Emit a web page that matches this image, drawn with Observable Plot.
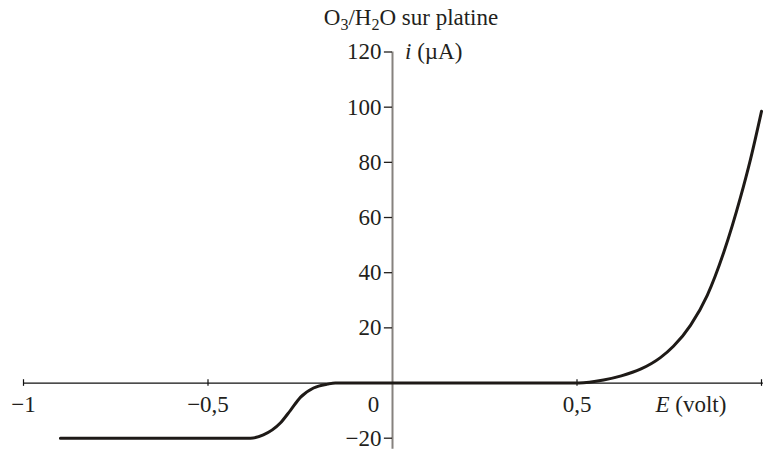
<!DOCTYPE html>
<html><head><meta charset="utf-8">
<script src="https://cdn.jsdelivr.net/npm/d3@7"></script>
<script src="https://cdn.jsdelivr.net/npm/@observablehq/plot@0.6"></script>
<style>body{margin:0;background:#fff} svg{display:block}</style>
</head><body><div id="chart"></div>
<script>
// Potential E (volt) and current i (µA)
const E = [-0.90, -0.385, -0.35, -0.304, -0.276, -0.249, -0.214, -0.176, -0.155, 0.505, 0.572, 0.620, 0.672, 0.726, 0.762, 0.808, 0.853, 0.898, 0.943, 0.970, 1.0];
const I = [-20, -20, -18.8, -14.5, -9.8, -5.1, -1.8, -0.4, 0, 0, 1.1, 2.6, 5.0, 9.2, 13.4, 21.0, 31.8, 47.5, 67.3, 81.0, 98.5];
const xTicks = [-1, -0.5, 0.5, 1];
const xLabelValues = [-1, -0.5, 0.5];
const xLabels = ["−1", "−0,5", "0,5"];
const zeroLabel = "0";
const yTicks = [-20, 20, 40, 60, 80, 100, 120];
const yLabels = ["−20", "20", "40", "60", "80", "100", "120"];
const xAxisName = ["E", " (volt)"];
const yAxisName = ["i", " (µA)"];
const titleParts = [["O", 0], ["3", 1], ["/H", 0], ["2", 1], ["O sur platine", 0]];

const data = E.map((e, k) => ({E: e, i: I[k]}));
const ink = "#231f1c";
const font = "'Liberation Serif', 'Times New Roman', serif";
const fs = 23;

const plot = Plot.plot({
  width: 765, height: 450,
  marginLeft: 23, marginRight: 4, marginTop: 51.5, marginBottom: 12.3,
  x: {domain: [-1, 1], axis: null},
  y: {domain: [-20, 120], axis: null},
  style: {fontFamily: font, fontSize: fs + "px", color: ink, background: "#fff"},
  marks: [
    Plot.ruleX([0], {y1: -24, y2: 120, stroke: "#86827e", strokeWidth: 2}),
    Plot.ruleY([0], {x1: -1, x2: 1.005, stroke: "#111", strokeWidth: 1.3}),
    Plot.ruleX(xTicks, {x: d => d, y1: -1.2, y2: 1.2, stroke: "#111", strokeWidth: 1.2}),
    Plot.ruleY(yTicks, {y: d => d, x1: -0.022, x2: 0, stroke: ink, strokeWidth: 1.3}),
    Plot.text(yTicks, {x: 0, y: d => d, text: (d, k) => yLabels[k], dx: -11, textAnchor: "end", fill: ink, fontSize: fs}),
    Plot.text(xLabelValues, {x: d => d, y: 0, text: (d, k) => xLabels[k], dy: 22, fill: ink, fontSize: fs}),
    Plot.text([0], {x: 0, y: 0, text: () => zeroLabel, dx: -19, dy: 22, fill: ink, fontSize: fs}),
    Plot.line(data, {x: "E", y: "i", curve: "monotone-x", stroke: "#1e1a17", strokeWidth: 3})
  ]
});

const sx = plot.scale("x"), sy = plot.scale("y");
const svg = d3.select(plot);
// title
const t = svg.append("text")
  .attr("x", sx.apply(0) + 19).attr("y", 25)
  .attr("text-anchor", "middle")
  .attr("font-family", font).attr("font-size", fs).attr("fill", ink);
titleParts.forEach(([s, sub], k) => {
  const ts = t.append("tspan").text(s);
  if (sub) ts.attr("font-size", 16).attr("dy", 5);
  else if (k > 0) ts.attr("dy", -5);
});
// y axis name
const ya = svg.append("text")
  .attr("x", sx.apply(0) + 13).attr("y", sy.apply(120)).attr("dy", "0.32em")
  .attr("text-anchor", "start")
  .attr("font-family", font).attr("font-size", fs).attr("fill", ink);
ya.append("tspan").attr("font-style", "italic").text(yAxisName[0]);
ya.append("tspan").text(yAxisName[1]);
// x axis name
const xa = svg.append("text")
  .attr("x", sx.apply(0.81)).attr("y", sy.apply(0) + 22).attr("dy", "0.32em")
  .attr("text-anchor", "middle")
  .attr("font-family", font).attr("font-size", fs).attr("fill", ink);
xa.append("tspan").attr("font-style", "italic").text(xAxisName[0]);
xa.append("tspan").text(xAxisName[1]);

document.getElementById("chart").append(plot);
</script>
</body></html>
